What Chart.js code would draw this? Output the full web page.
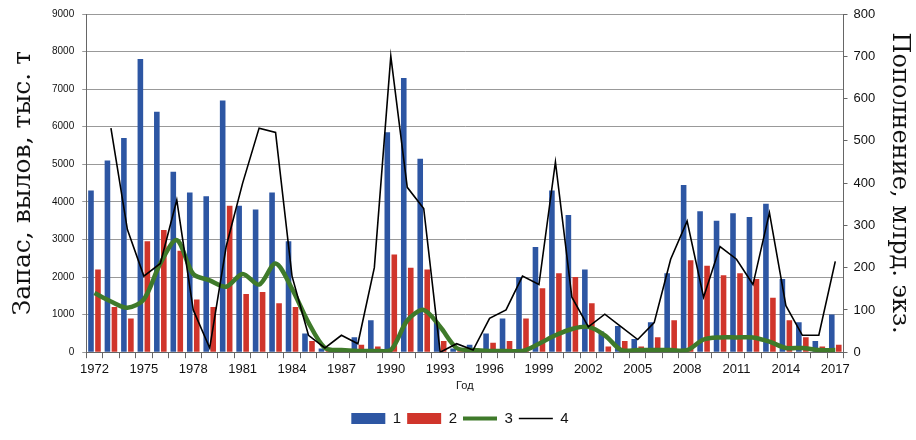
<!DOCTYPE html>
<html>
<head>
<meta charset="utf-8">
<script src="https://cdn.jsdelivr.net/npm/chart.js@4/dist/chart.umd.min.js"></script>
<style>
  body { margin: 0; background: #fff; }
  #wrap { position: relative; width: 916px; height: 440px; }
</style>
</head>
<body>
<div id="wrap"><canvas id="chart" width="916" height="440"></canvas></div>
<script>
var years = [];
for (var y = 1972; y <= 2017; y++) { years.push(String(y)); }

// 1 - запас (тыс. т)
var stock = [4300, 5100, 5700, 7800, 6400, 4800, 4250, 4150, 6700, 3900, 3800, 4250, 2950, 500, 100, 50, 400, 850, 5850, 7300,
    5150, 800, 100, 200, 500, 900, 2000, 2800, 4300, 3650, 2200, 550, 700, 350, 800, 2100, 4450, 3750, 3500, 3700,
    3600, 3950, 1950, 800, 300, 1000];
// 2 - вылов (тыс. т)
var catchT = [2200, 1200, 900, 2950, 3250, 2700, 1400, 1200, 3900, 1550, 1600, 1300, 1200, 300, 50, 50, 200, 150, 2600, 2250,
    2200, 300, 50, 100, 250, 300, 900, 1700, 2100, 2000, 1300, 150, 300, 150, 400, 850, 2450, 2300, 2050, 2100,
    1950, 1450, 850, 400, 150, 200];
// 3 - пополнение, сглаженное (млрд экз.)
var recrSmooth = [140, 120, 105, 125, 210, 265, 185, 170, 155, 185, 160, 210, 150, 70, 10, 5, 3, 3, 5, 75,
    100, 60, 10, 5, 3, 3, 3, 20, 40, 55, 60, 40, 5, 5, 5, 5, 5, 30, 35, 35,
    35, 25, 10, 10, 5, 5];
// 4 - пополнение (млрд экз.)
var recr = [null, 530, 290, 180, 210, 360, 100, 10, 250, 400, 530, 520, 180, 40, 10, 40, 20, 200, 700, 390,
    340, 0, 20, 5, 80, 100, 180, 160, 450, 130, 60, 90, 60, 30, 70, 220, 310, 130, 250, 220,
    160, 330, 110, 40, 40, 215];

var leftTicks = [0, 1000, 2000, 3000, 4000, 5000, 6000, 7000, 8000, 9000];
var rightTicks = [0, 100, 200, 300, 400, 500, 600, 700, 800];

new Chart(document.getElementById('chart').getContext('2d'), {
    data: {
        labels: years,
        datasets: [
            { type: 'line', label: '4', data: recr, yAxisID: 'y2', borderColor: '#000', borderWidth: 1.6, pointRadius: 0, tension: 0, order: 0 },
            { type: 'line', label: '3', data: recrSmooth, yAxisID: 'y2', borderColor: '#3f7a2a', borderWidth: 4.5, pointRadius: 0, tension: 0.3, order: 1 },
            { type: 'bar', label: '1', data: stock, yAxisID: 'y', backgroundColor: '#2d56a3', barPercentage: 0.8, categoryPercentage: 0.85, order: 2 },
            { type: 'bar', label: '2', data: catchT, yAxisID: 'y', backgroundColor: '#d0352b', barPercentage: 0.8, categoryPercentage: 0.85, order: 2 }
        ]
    },
    options: {
        responsive: false,
        animation: false,
        layout: { padding: { left: 4, right: 0, top: 12, bottom: 4 } },
        plugins: {
            legend: {
                position: 'bottom',
                labels: {
                    color: '#111', font: { family: 'Liberation Sans', size: 15 }, padding: 6,
                    usePointStyle: true, pointStyleWidth: 34, boxHeight: 11,
                    generateLabels: function(chart) {
                        return ['1', '2', '3', '4'].map(function(lbl) {
                            var i = chart.data.datasets.findIndex(function(d) { return d.label === lbl; });
                            var d = chart.data.datasets[i];
                            var isBar = d.type === 'bar';
                            return {
                                text: lbl, datasetIndex: i,
                                pointStyle: isBar ? 'rect' : 'line',
                                fillStyle: isBar ? d.backgroundColor : d.borderColor,
                                strokeStyle: isBar ? d.backgroundColor : d.borderColor,
                                lineWidth: isBar ? 0 : (lbl === '3' ? 4 : 1.5), fontColor: '#111'
                            };
                        });
                    }
                }
            },
            tooltip: { enabled: false }
        },
        scales: {
            x: {
                grid: { display: true, drawOnChartArea: false, offset: true, tickLength: 6, color: '#666' },
                border: { color: '#666' },
                ticks: {
                    autoSkip: false, maxRotation: 0, color: '#111', font: { family: 'Liberation Sans', size: 13 },
                    callback: function(v, i) { return i % 3 === 0 ? years[i] : ''; }
                },
                title: { display: true, text: 'Год', color: '#111', font: { family: 'Liberation Sans', size: 11 }, padding: { top: 0, bottom: 12 } }
            },
            y: {
                position: 'left', min: 0, max: 9000,
                afterBuildTicks: function(s) { s.ticks = leftTicks.map(function(v) { return { value: v }; }); },
                grid: { color: '#999', tickLength: 4 },
                border: { color: '#666' },
                ticks: { color: '#111', font: { family: 'Liberation Sans', size: 10 }, padding: 8, callback: function(v) { return String(v); } },
                title: { display: true, text: 'Запас, вылов, тыс. т', color: '#111', font: { family: 'DejaVu Serif', size: 25 }, padding: { bottom: 6 } }
            },
            y2: {
                position: 'right', min: 0, max: 800,
                afterBuildTicks: function(s) { s.ticks = rightTicks.map(function(v) { return { value: v }; }); },
                grid: { drawOnChartArea: false, tickLength: 4, color: '#666' },
                border: { color: '#666' },
                ticks: { color: '#111', font: { family: 'Liberation Sans', size: 13 }, padding: 6 },
                title: { display: true, text: 'Пополнение, млрд. экз.', color: '#111', font: { family: 'DejaVu Serif', size: 24 }, padding: { top: 2 } }
            }
        }
    }
});
</script>
</body>
</html>
